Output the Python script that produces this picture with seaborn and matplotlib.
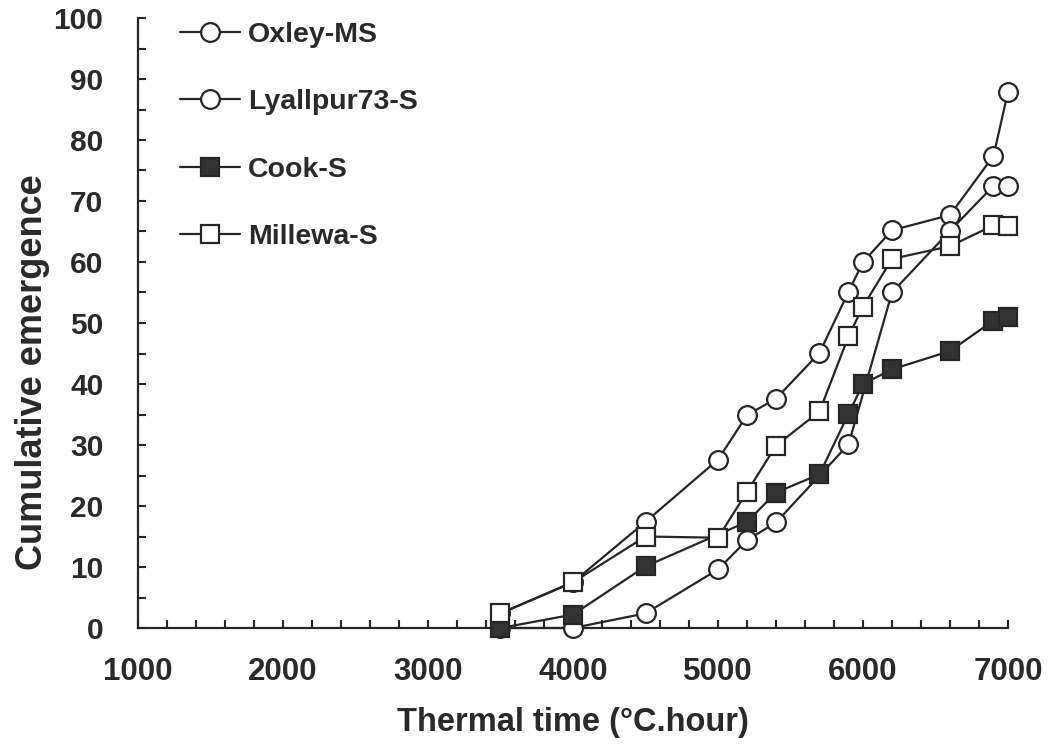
import matplotlib
matplotlib.use("Agg")
import matplotlib.pyplot as plt
from matplotlib.ticker import MultipleLocator
import seaborn as sns
import pandas as pd

# ---- data ----
oxley_x = [3500, 4000, 4500, 5000, 5200, 5400, 5700, 5900, 6000, 6200, 6600, 6900, 7000]
oxley_y = [2.4, 7.5, 17.4, 27.6, 34.9, 37.6, 45.1, 55.1, 60.0, 65.2, 67.7, 77.4, 87.9]

lyall_x = [3500, 4000, 4500, 5000, 5200, 5400, 5900, 6200, 6600, 6900, 7000]
lyall_y = [0.0, 0.0, 2.4, 9.6, 14.4, 17.3, 30.1, 55.0, 65.1, 72.5, 72.5]

cook_x = [3500, 4000, 4500, 5200, 5400, 5700, 5900, 6000, 6200, 6600, 6900, 7000]
cook_y = [0.0, 2.2, 10.1, 17.4, 22.2, 25.2, 35.1, 40.0, 42.4, 45.4, 50.4, 51.0]

mill_x = [3500, 4000, 4500, 5000, 5200, 5400, 5700, 5900, 6000, 6200, 6600, 6900, 7000]
mill_y = [2.4, 7.5, 15.0, 14.8, 22.3, 29.9, 35.5, 47.8, 52.7, 60.5, 62.6, 66.0, 65.9]

series_names = ["Oxley-MS", "Lyallpur73-S", "Cook-S", "Millewa-S"]
x_ticks = [1000, 2000, 3000, 4000, 5000, 6000, 7000]
y_ticks = [0, 10, 20, 30, 40, 50, 60, 70, 80, 90, 100]

frames = []
for name, xs, ys in zip(series_names,
                        [oxley_x, lyall_x, cook_x, mill_x],
                        [oxley_y, lyall_y, cook_y, mill_y]):
    frames.append(pd.DataFrame({"series": name, "time": xs, "emergence": ys}))
df = pd.concat(frames, ignore_index=True)

# ---- styling ----
sns.set_theme(style="ticks")
plt.rcParams["font.family"] = ["Liberation Sans", "DejaVu Sans"]
plt.rcParams["font.weight"] = "bold"

ink = "#262626"
txt = "#2a2a2a"
styles = {
    "Oxley-MS": dict(marker="o", mfc="white"),
    "Lyallpur73-S": dict(marker="o", mfc="white"),
    "Cook-S": dict(marker="s", mfc="#333333"),
    "Millewa-S": dict(marker="s", mfc="white"),
}

fig = plt.figure(figsize=(10.54, 7.47), dpi=100)
ax = fig.add_axes([138 / 1054, (747 - 628) / 747, 870 / 1054, 610 / 747])

for name in series_names:
    st = styles[name]
    sns.lineplot(data=df[df["series"] == name], x="time", y="emergence",
                 ax=ax, color=ink, linewidth=1.6, marker=st["marker"],
                 markersize=13.5, markerfacecolor=st["mfc"],
                 markeredgecolor=ink, markeredgewidth=1.6,
                 label=name, clip_on=False, zorder=3)

ax.set_xlim(1000, 7000)
ax.set_ylim(0, 100)
ax.set_xticks(x_ticks)
ax.set_yticks(y_ticks)
ax.xaxis.set_minor_locator(MultipleLocator(200))
ax.yaxis.set_minor_locator(MultipleLocator(5))

for side in ["top", "right"]:
    ax.spines[side].set_visible(False)
for side in ["left", "bottom"]:
    ax.spines[side].set_linewidth(1.6)
    ax.spines[side].set_color(ink)

ax.tick_params(axis="both", which="both", direction="in", length=6,
               width=1.5, color=ink, labelcolor=txt)
ax.tick_params(axis="x", which="both", pad=21, labelsize=22.5)
ax.tick_params(axis="y", which="both", pad=25, labelsize=21.5)
for lab in ax.get_xticklabels() + ax.get_yticklabels():
    lab.set_fontweight("bold")

ax.set_xlabel("Thermal time (°C.hour)", fontsize=23.5, fontweight="bold",
              color=txt, labelpad=14)
ax.set_ylabel("Cumulative emergence", fontsize=26, fontweight="bold",
              color=txt)
ax.yaxis.set_label_coords(-0.101, 0.42)

leg = ax.legend(loc="upper left", bbox_to_anchor=(180 / 1054, 1 - 22 / 747),
                bbox_transform=fig.transFigure, frameon=False, fontsize=20.5,
                handlelength=2.1, handletextpad=0.3, labelspacing=1.45,
                borderpad=0, borderaxespad=0, numpoints=1)
for t in leg.get_texts():
    t.set_color(txt)
    t.set_fontweight("bold")

ax.set_facecolor("white")
fig.patch.set_facecolor("white")
fig.savefig("out.png", dpi=100)
